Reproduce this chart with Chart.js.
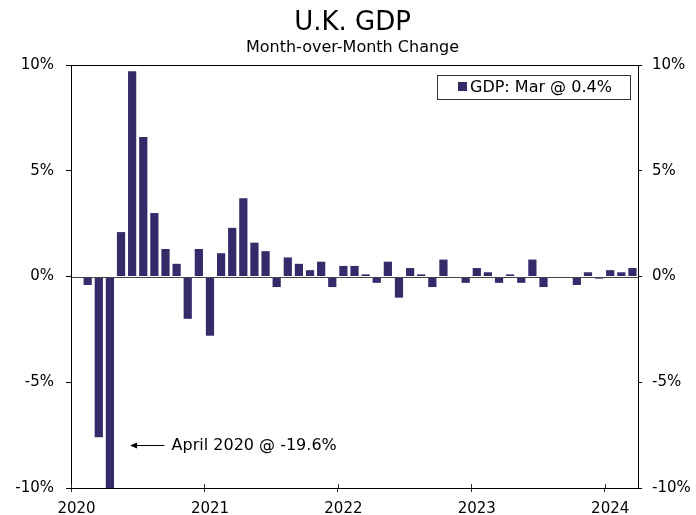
<!DOCTYPE html>
<html>
<head>
<meta charset="utf-8">
<script src="https://cdn.jsdelivr.net/npm/chart.js@4/dist/chart.umd.min.js"></script>
<style>
  html, body { margin: 0; padding: 0; background: #ffffff; }
  #wrap { width: 696px; height: 515px; position: relative; }
</style>
</head>
<body>
<div id="wrap"><canvas id="c" width="696" height="515"></canvas></div>
<script>
// ---- Data ----
const titleText = 'U.K. GDP';
const subtitleText = 'Month-over-Month Change';
const years = [2020, 2021, 2022, 2023, 2024];
const monthNames = ['Jan','Feb','Mar','Apr','May','Jun','Jul','Aug','Sep','Oct','Nov','Dec'];
const yTickValues = [-10, -5, 0, 5, 10];
// Month-over-month % change, Jan 2020 .. Mar 2024
const gdp2020 = [0.0, -0.4, -7.6, -19.6, 2.1, 9.7, 6.6, 3.0, 1.3, 0.6, -2.0, 1.3];
const gdp2021 = [-2.8, 1.1, 2.3, 3.7, 1.6, 1.2, -0.5, 0.9, 0.6, 0.3, 0.7, -0.5];
const gdp2022 = [0.5, 0.5, 0.1, -0.3, 0.7, -1.0, 0.4, 0.1, -0.5, 0.8, 0.0, -0.3];
const gdp2023 = [0.4, 0.2, -0.3, 0.1, -0.3, 0.8, -0.5, 0.0, 0.0, -0.4, 0.2, -0.1];
const gdp2024 = [0.3, 0.2, 0.4];
const legendLabel = 'GDP: Mar @ 0.4%';
const annotationText = 'April 2020 @ -19.6%';
const annotationMonth = 'Apr 2020';

const gdpValues = [].concat(gdp2020, gdp2021, gdp2022, gdp2023, gdp2024);
const categories = [];
years.forEach(y => monthNames.forEach(m => categories.push(m + ' ' + y)));
categories.length = gdpValues.length;

const barColor = '#352b6b';
const FONT = '"DejaVu Sans", Verdana, sans-serif';

const isJan = (i) => i >= 0 && i < categories.length && categories[i].startsWith('Jan');

const framePlugin = {
  id: 'frame',
  afterDatasetsDraw(chart) {
    const { ctx, chartArea: a, scales } = chart;
    const y0 = scales.y.getPixelForValue(0);
    ctx.save();
    // zero line
    ctx.strokeStyle = '#444444';
    ctx.lineWidth = 1;
    ctx.beginPath();
    ctx.moveTo(a.left, Math.round(y0) + 0.5);
    ctx.lineTo(a.right, Math.round(y0) + 0.5);
    ctx.stroke();
    // frame
    ctx.strokeStyle = '#000000';
    ctx.beginPath();
    ctx.rect(Math.round(a.left) + 0.5, Math.round(a.top) + 0.5, Math.round(a.right - a.left), Math.round(a.bottom - a.top));
    ctx.stroke();
    // inner parts of year ticks
    ctx.strokeStyle = '#333333';
    const xs = scales.x;
    const half = (a.right - a.left) / categories.length / 2;
    categories.forEach((c, i) => {
      if (!isJan(i)) return;
      const px = Math.round(xs.getPixelForValue(i) - half) + 0.5;
      ctx.beginPath();
      ctx.moveTo(px, a.bottom);
      ctx.lineTo(px, a.bottom - 4);
      ctx.stroke();
    });
    ctx.restore();
  },
  afterDraw(chart) {
    const { ctx, chartArea: a, scales } = chart;
    ctx.save();
    ctx.fillStyle = '#000000';
    ctx.textAlign = 'center';
    ctx.textBaseline = 'alphabetic';
    const cx = (a.left + a.right) / 2 - 2;
    ctx.font = '26px ' + FONT;
    ctx.fillText(titleText, cx, 30);
    ctx.font = '16px ' + FONT;
    ctx.fillText(subtitleText, cx, 52);

    // legend box
    const lx = 437, ly = 75, lw = 193, lh = 24;
    ctx.fillStyle = '#ffffff';
    ctx.fillRect(lx, ly, lw, lh);
    ctx.strokeStyle = '#333333';
    ctx.lineWidth = 1;
    ctx.strokeRect(lx + 0.5, ly + 0.5, lw, lh);
    ctx.fillStyle = barColor;
    ctx.fillRect(458, 82, 9, 9);
    ctx.fillStyle = '#000000';
    ctx.textAlign = 'left';
    ctx.textBaseline = 'middle';
    ctx.font = '16px ' + FONT;
    ctx.fillText(legendLabel, 470, 87.5);

    // annotation
    const idx = categories.indexOf(annotationMonth);
    const xs = scales.x, ys = scales.y;
    const yA = Math.round(ys.getPixelForValue(-7.95)) + 0.5;
    const x1 = xs.getPixelForValue(idx + 1.9);
    const x2 = xs.getPixelForValue(idx + 4.9);
    ctx.strokeStyle = '#000000';
    ctx.beginPath();
    ctx.moveTo(x1, yA);
    ctx.lineTo(x2, yA);
    ctx.stroke();
    ctx.fillStyle = '#000000';
    ctx.beginPath();
    ctx.moveTo(x1 - 1, yA);
    ctx.lineTo(x1 + 6, yA - 3);
    ctx.lineTo(x1 + 6, yA + 3);
    ctx.closePath();
    ctx.fill();
    ctx.font = '16px ' + FONT;
    ctx.fillText(annotationText, xs.getPixelForValue(idx + 5.55), yA);
    ctx.restore();
  }
};

new Chart(document.getElementById('c'), {
  type: 'bar',
  data: {
    labels: categories,
    datasets: [{
      label: 'GDP',
      data: gdpValues,
      backgroundColor: barColor,
      borderWidth: 0,
      barPercentage: 0.74,
      categoryPercentage: 1.0,
      yAxisID: 'y'
    }]
  },
  options: {
    responsive: false,
    animation: false,
    devicePixelRatio: 1,
    layout: { padding: { top: 65, left: 0, right: 0, bottom: 0 } },
    plugins: {
      legend: { display: false },
      title: { display: false },
      tooltip: { enabled: false }
    },
    scales: {
      x: {
        type: 'category',
        offset: true,
        afterFit(scale) { scale.height = 27; },
        grid: {
          offset: true,
          drawOnChartArea: false,
          drawTicks: true,
          tickLength: 4,
          tickColor: (ctx) => isJan(ctx.index) ? '#333333' : 'rgba(0,0,0,0)',
          color: (ctx) => isJan(ctx.index) ? '#333333' : 'rgba(0,0,0,0)'
        },
        border: { display: true, color: '#000000', width: 1 },
        ticks: {
          color: '#000000',
          font: { family: FONT, size: 15 },
          padding: 8,
          maxRotation: 0,
          minRotation: 0,
          autoSkip: false,
          callback: (v, i) => isJan(i) ? categories[i].slice(4) : ''
        }
      },
      y: {
        position: 'left',
        min: -10, max: 10,
        afterBuildTicks(scale) { scale.ticks = yTickValues.map(v => ({ value: v })); },
        afterFit(scale) { scale.width = 71; },
        grid: { drawOnChartArea: false, drawTicks: true, tickLength: 5, color: '#000000' },
        border: { display: true, color: '#000000', width: 1 },
        ticks: {
          color: '#000000',
          font: { family: FONT, size: 15 },
          padding: 12,
          callback: (v) => v + '%'
        }
      },
      y2: {
        position: 'right',
        min: -10, max: 10,
        afterBuildTicks(scale) { scale.ticks = yTickValues.map(v => ({ value: v })); },
        afterFit(scale) { scale.width = 58; },
        grid: { drawOnChartArea: false, drawTicks: true, tickLength: 4, color: '#000000' },
        border: { display: true, color: '#000000', width: 1 },
        ticks: {
          color: '#000000',
          font: { family: FONT, size: 15 },
          padding: 10,
          callback: (v) => v + '%'
        }
      }
    }
  },
  plugins: [framePlugin]
});
</script>
</body>
</html>
